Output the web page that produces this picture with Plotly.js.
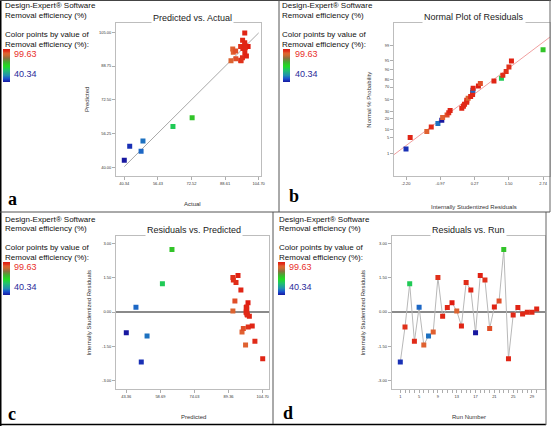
<!DOCTYPE html>
<html><head><meta charset="utf-8">
<script src="https://cdn.plot.ly/plotly-3.0.1.min.js"></script>
<style>html,body{margin:0;padding:0;background:#fff}#chart{width:553px;height:426px}</style>
</head><body><div id="chart"></div>
<script>
// ---- data ----
const runNumber = [1,2,3,4,5,6,7,8,9,10,11,12,13,14,15,16,17,18,19,20,21,22,23,24,25,26,27,28,29,30];
const actual = [42.93,96.05,63.64,96.99,48.38,92.27,49.28,92.53,96.22,98.08,97.95,99.63,91.43,98.01,96.91,98.06,40.34,98.82,96.10,93.65,98.22,93.76,72.83,98.02,97.38,98.05,97.31,97.17,97.47,97.92];
const predicted = [50.1,98.2,59.6,101.2,47.7,97.0,52.7,95.4,91.3,98.7,97.3,98.1,91.3,100.0,92.7,94.9,43.36,93.6,91.5,96.0,97.5,92.2,63.9,104.7,97.8,97.4,97.6,97.2,97.5,97.5];
const residual = [-2.20,-0.66,1.24,-1.29,0.21,-1.45,-1.05,-0.88,1.51,-0.19,0.20,0.41,0.04,-0.61,1.29,0.97,-0.91,1.60,1.41,-0.72,0.22,0.48,2.74,-2.05,-0.13,0.20,-0.09,-0.01,-0.01,0.13];

const actualTicks = [40.34,56.43,72.52,88.61,104.70];
const predTicksA = [40.00,56.25,72.50,88.75,105.00];
const predTicksC = [43.36,58.69,74.03,89.36,104.70];
const residTicks = [-3.00,-1.50,0.00,1.50,3.00];
const normResidTicks = [-2.20,-0.97,0.27,1.50,2.74];
const probTicks = [1,5,10,20,30,50,70,80,90,95,99];
const runLabelTicks = [1,5,9,13,17,21,25,29];
const colorMin = 40.34, colorMax = 99.63;

const titles = ["Predicted vs. Actual","Normal Plot of Residuals","Residuals vs. Predicted","Residuals vs. Run"];
const xTitles = ["Actual","Internally Studentized Residuals","Predicted","Run Number"];
const yTitles = ["Predicted","Normal % Probability","Internally Studentized Residuals","Internally Studentized Residuals"];
const panelLetters = ["a","b","c","d"];
const infoLines = ["Design-Expert® Software","Removal efficiency (%)","Color points by value of","Removal efficiency (%):"];

// ---- helpers ----
const W = 553, H = 426;
const px = x => x / W, py = y => 1 - y / H;
function normInv(p){
  const a=[-3.969683028665376e+01,2.209460984245205e+02,-2.759285104469687e+02,1.383577518672690e+02,-3.066479806614716e+01,2.506628277459239e+00];
  const b=[-5.447609879822406e+01,1.615858368580409e+02,-1.556989798598866e+02,6.680131188771972e+01,-1.328068155288572e+01];
  const c=[-7.784894002430293e-03,-3.223964580411365e-01,-2.400758277161838e+00,-2.549732539343734e+00,4.374664141464968e+00,2.938163982698783e+00];
  const d=[7.784695709041462e-03,3.224671290700398e-01,2.445134137142996e+00,3.754408661907416e+00];
  const pl=0.02425, ph=1-pl; let q,r;
  if(p<pl){q=Math.sqrt(-2*Math.log(p));return (((((c[0]*q+c[1])*q+c[2])*q+c[3])*q+c[4])*q+c[5])/((((d[0]*q+d[1])*q+d[2])*q+d[3])*q+1);}
  if(p<=ph){q=p-0.5;r=q*q;return (((((a[0]*r+a[1])*r+a[2])*r+a[3])*r+a[4])*r+a[5])*q/(((((b[0]*r+b[1])*r+b[2])*r+b[3])*r+b[4])*r+1);}
  q=Math.sqrt(-2*Math.log(1-p));return -(((((c[0]*q+c[1])*q+c[2])*q+c[3])*q+c[4])*q+c[5])/((((d[0]*q+d[1])*q+d[2])*q+d[3])*q+1);
}

const cscale = [[0,'#1818a0'],[0.1,'#1a50d0'],[0.2,'#2090b0'],[0.35,'#20c070'],[0.48,'#20dd20'],[0.6,'#40b030'],[0.72,'#8a7040'],[0.82,'#d06a30'],[0.88,'#e06030'],[0.93,'#e0341c'],[1,'#e01c10']];
const FONT = "Arial, 'Liberation Sans', sans-serif";

// colorbar placement for each panel: [left px, top px]
const cbPos = [[3,48.5],[283.3,48.5],[3,261.5],[277.7,261.5]];
function colorbarFor(i){
  return {x:px(cbPos[i][0]), xanchor:'left', y:py(cbPos[i][1]), yanchor:'top',
    lenmode:'pixels', len:32.5, thicknessmode:'pixels', thickness:7,
    outlinewidth:0, showticklabels:false, ticks:'', xpad:0, ypad:0};
}
function markerFor(colors, i){
  return {symbol:'square', size:5, color:colors, cmin:colorMin, cmax:colorMax,
    colorscale:cscale, showscale:true, colorbar:colorbarFor(i), line:{width:0}};
}

// normal plot data
const n = residual.length;
const order = residual.map((r,i)=>i).sort((a,b)=>residual[a]-residual[b]);
const normX = order.map(i=>residual[i]);
const normY = order.map((i,k)=>normInv((k+0.5)/n));
const normC = order.map(i=>actual[i]);
const mean = residual.reduce((s,v)=>s+v,0)/n;
const sd = Math.sqrt(residual.reduce((s,v)=>s+(v-mean)*(v-mean),0)/(n-1));
const lineX = [-2.7, 3.1];
const lineY = lineX.map(v=>(v-mean)/sd);

const traces = [
  {x:[actualTicks[0], actualTicks[actualTicks.length-1]], y:[actualTicks[0], actualTicks[actualTicks.length-1]], mode:'lines', line:{color:'#a8a8a8', width:1}, xaxis:'x', yaxis:'y', hoverinfo:'skip'},
  {x:actual, y:predicted, mode:'markers', marker:markerFor(actual,0), xaxis:'x', yaxis:'y'},
  {x:lineX, y:lineY, mode:'lines', line:{color:'#f0a0a0', width:1}, xaxis:'x2', yaxis:'y2', hoverinfo:'skip'},
  {x:normX, y:normY, mode:'markers', marker:markerFor(normC,1), xaxis:'x2', yaxis:'y2'},
  {x:predicted, y:residual, mode:'markers', marker:markerFor(actual,2), xaxis:'x3', yaxis:'y3'},
  {x:runNumber, y:residual, mode:'lines+markers', line:{color:'#b8b8b8', width:1}, marker:markerFor(actual,3), xaxis:'x4', yaxis:'y4'}
];

const fmt2 = v => v.toFixed(2);
function axisBase(extra){
  return Object.assign({showline:true, mirror:true, linecolor:'#bdbdbd', linewidth:1,
    showgrid:false, zeroline:false, ticks:'outside', ticklen:3, tickwidth:0.6, tickcolor:'#777',
    tickfont:{size:4, color:'#333', family:FONT}, tickmode:'array', fixedrange:true}, extra);
}
// frames in px: [left, right, top, bottom]
const frames = [[116,261,22.7,175.7],[394,550,22.7,176],[116,269.3,235.7,388.7],[391.7,545.3,235.7,388.7]];
const dx = f => [px(f[0]), px(f[1])];
const dy = f => [py(f[3]), py(f[2])];

const runTickVals = runNumber.slice();
const runTickText = runNumber.map(r => runLabelTicks.includes(r) ? String(r) : '');

const layout = {
  width:W, height:H, autosize:false, margin:{l:0,r:0,t:0,b:0},
  paper_bgcolor:'#fff', plot_bgcolor:'#fff', showlegend:false,
  font:{family:FONT, color:'#222'},
  xaxis: axisBase({domain:dx(frames[0]), anchor:'y', range:[36.37,105.8], tickvals:actualTicks, ticktext:actualTicks.map(fmt2)}),
  yaxis: axisBase({domain:dy(frames[0]), anchor:'x', range:[35.96,109.6], tickvals:predTicksA, ticktext:predTicksA.map(fmt2)}),
  xaxis2: axisBase({domain:dx(frames[1]), anchor:'y2', range:[-2.633,2.99], tickvals:normResidTicks, ticktext:normResidTicks.map(fmt2)}),
  yaxis2: axisBase({domain:dy(frames[1]), anchor:'x2', range:[-3.292,3.288], tickvals:probTicks.map(p=>normInv(p/100)), ticktext:probTicks.map(String)}),
  xaxis3: axisBase({domain:dx(frames[2]), anchor:'y3', range:[38.73,107.67], tickvals:predTicksC, ticktext:predTicksC.map(fmt2)}),
  yaxis3: axisBase({domain:dy(frames[2]), anchor:'x3', range:[-3.369,3.351], tickvals:residTicks, ticktext:residTicks.map(fmt2), zeroline:true, zerolinecolor:'#8a8a8a', zerolinewidth:1.5}),
  xaxis4: axisBase({domain:dx(frames[3]), anchor:'y4', range:[-0.828,31.83], tickvals:runTickVals, ticktext:runTickText}),
  yaxis4: axisBase({domain:dy(frames[3]), anchor:'x4', range:[-3.369,3.351], tickvals:residTicks, ticktext:residTicks.map(fmt2), zeroline:true, zerolinecolor:'#8a8a8a', zerolinewidth:1.5}),
  annotations: [], shapes: []
};

function ann(x, y, text, o){
  layout.annotations.push(Object.assign({xref:'paper', yref:'paper', x:px(x), y:py(y), text:text, showarrow:false,
    xanchor:'center', yanchor:'middle', font:{family:FONT, size:8, color:'#111'}}, o||{}));
}

// panel offsets
const offs = [[3,0],[280,0],[3,213],[277,213]];
const lineDy = [6,15.7,34,44.7];
offs.forEach((o,i)=>{
  infoLines.forEach((t,k)=> ann(o[0], o[1]+lineDy[k], t, {xanchor:'left'}));
  ann(cbPos[i][0]+9.3, o[1]+54, colorMax.toFixed(2), {xanchor:'left', font:{family:FONT, size:9, color:'#e8302a'}});
  ann(cbPos[i][0]+9.3, o[1]+74, colorMin.toFixed(2), {xanchor:'left', font:{family:FONT, size:9, color:'#2a2a9a'}});
});

// chart titles (white box interrupts frame top)
const titlePos = [[192,18],[474.3,17.5],[194,229.7],[468.7,229.7]];
titles.forEach((t,i)=> ann(titlePos[i][0], titlePos[i][1], t, {font:{family:FONT, size:9, color:'#222'}, bgcolor:'#fff', borderpad:1}));

// axis titles
const xtPos = [[192,204],[474.3,206.7],[194,417.3],[468.7,417.3]];
const ytPos = [[87,100],[368.7,100],[89.3,312.3],[363.3,312.3]];
xTitles.forEach((t,i)=> ann(xtPos[i][0], xtPos[i][1], t, {font:{family:FONT, size:6, color:'#333'}}));
yTitles.forEach((t,i)=> ann(ytPos[i][0], ytPos[i][1], t, {textangle:-90, font:{family:FONT, size:6, color:'#333'}}));

// panel letters
const letterPos = [[12,199],[294,196],[12,414],[288,413]];
panelLetters.forEach((t,i)=> ann(letterPos[i][0], letterPos[i][1], '<b>'+t+'</b>', {font:{family:"'Liberation Serif','Times New Roman',serif", size:18, color:'#000'}}));

// figure borders / panel dividers
function seg(x0,y0,x1,y1,color,w){
  layout.shapes.push({type:'line', xref:'paper', yref:'paper', x0:px(x0), y0:py(y0), x1:px(x1), y1:py(y1), line:{color:color, width:w}});
}
seg(0.75,0,0.75,426,'#000',1.5);
seg(0,0.5,551,0.5,'#444',1);
seg(0,424.5,546,424.5,'#000',1.5);
seg(550,0,550,212,'#666',1);
seg(546,212,546,425,'#666',1);
seg(279,0,279,212,'#555',1);
seg(0,212,550,212,'#555',1);
seg(273,212,273,424,'#555',1);

Plotly.newPlot('chart', traces, layout, {staticPlot:true, displayModeBar:false});
</script>
</body></html>
